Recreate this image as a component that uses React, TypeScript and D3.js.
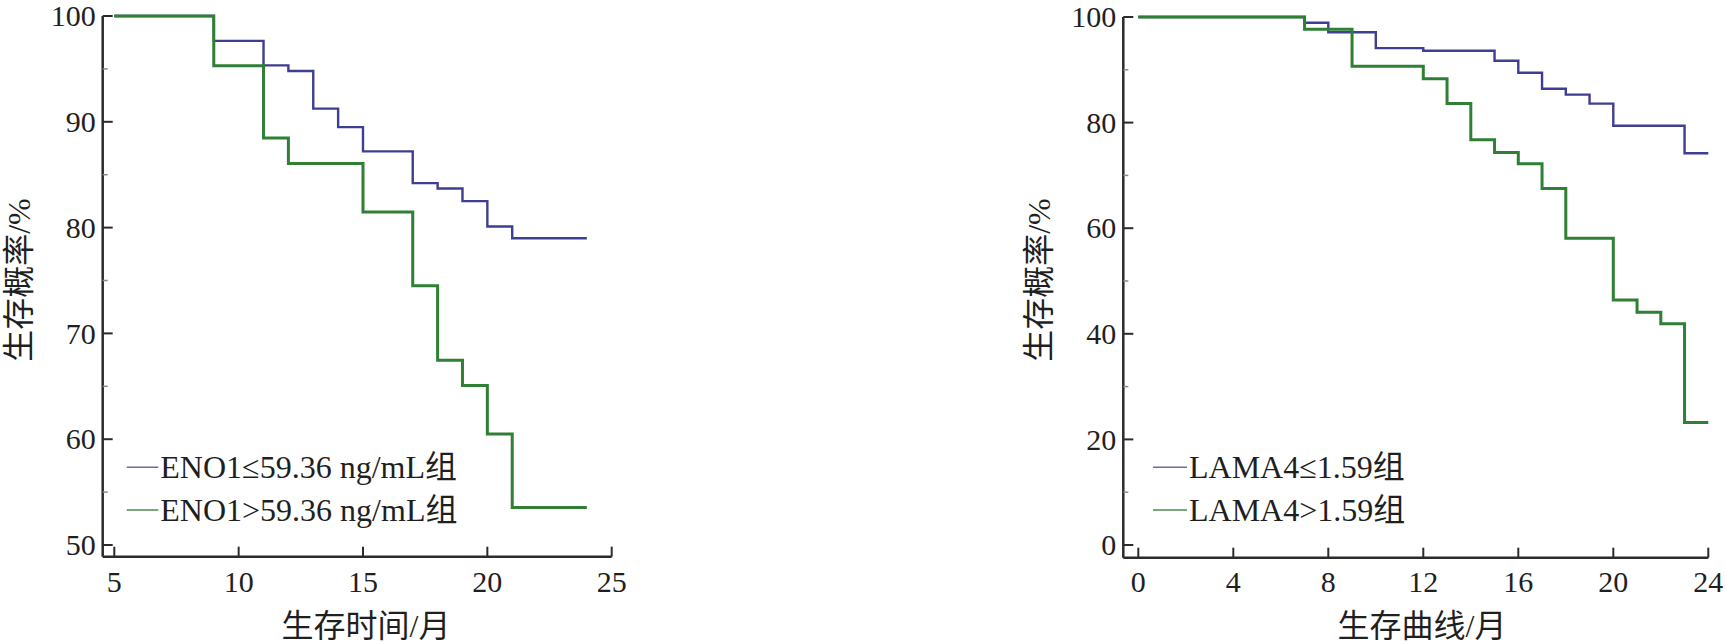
import React from "react";
import * as d3 from "d3";

// ---------- Data ----------
// Left panel: ENO1 groups
const leftLowTimes = [5, 9, 11, 12, 13, 14, 15, 17, 18, 19, 20, 21, 24];
const leftLowSurv = [100, 97.65, 95.33, 94.8, 91.25, 89.5, 87.2, 84.2, 83.7, 82.5, 80.1, 79.0, 79.0];
const leftHighTimes = [5, 9, 11, 12, 15, 17, 18, 19, 20, 21, 24];
const leftHighSurv = [100, 95.3, 88.46, 86.05, 81.47, 74.5, 67.46, 65.08, 60.5, 53.54, 53.54];

// Right panel: LAMA4 groups
const rightLowTimes = [0, 7, 8, 10, 12, 15, 16, 17, 18, 19, 20, 23, 24];
const rightLowSurv = [100, 98.9, 97.1, 94.1, 93.6, 91.7, 89.45, 86.4, 85.3, 83.6, 79.4, 74.2, 74.2];
const rightHighTimes = [0, 7, 9, 12, 13, 14, 15, 16, 17, 18, 20, 21, 22, 23, 24];
const rightHighSurv = [100, 97.7, 90.65, 88.3, 83.6, 76.75, 74.35, 72.2, 67.5, 58.1, 46.4, 44.1, 41.9, 23.2, 23.2];

const leftXTicks = [5, 10, 15, 20, 25];
const leftYTicks = [50, 60, 70, 80, 90, 100];
const leftYMinor = [55, 65, 75, 85, 95];
const rightXTicks = [0, 4, 8, 12, 16, 20, 24];
const rightYTicks = [0, 20, 40, 60, 80, 100];
const rightYMinor = [10, 30, 50, 70, 90];

const leftLegend = ["ENO1≤59.36 ng/mL组", "ENO1>59.36 ng/mL组"];
const rightLegend = ["LAMA4≤1.59组", "LAMA4>1.59组"];
const yTitle = "生存概率/%";
const leftXTitle = "生存时间/月";
const rightXTitle = "生存曲线/月";

const BLUE = "#3e3e92";
const GREEN = "#2f8034";
const BLUE_LEG = "#6b6bab";
const GREEN_LEG = "#4d8c4f";
const AXIS = "#2b2b2b";
const TEXT = "#1f1f1f";
const FONT = "'Liberation Serif', 'Noto Sans CJK SC', serif";

type PanelProps = {
  xDomain: [number, number];
  xRange: [number, number];
  axisLeft: number;
  yDomain: [number, number];
  yRange: [number, number];
  axisBottom: number;
  xTicks: number[];
  yTicks: number[];
  yMinor: number[];
  series: { times: number[]; surv: number[]; color: string; width: number }[];
  legend: string[];
  legendColors: string[];
  legendX: [number, number];
  legendY: number[];
  xTitle: string;
  xTitleX: number;
  yTitleX: number;
};

function Panel(p: PanelProps) {
  const x = d3.scaleLinear().domain(p.xDomain).range(p.xRange);
  const y = d3.scaleLinear().domain(p.yDomain).range(p.yRange);
  const top = y(p.yDomain[1]);
  const right = x(p.xDomain[1]);
  const line = d3
    .line<[number, number]>()
    .x((d) => x(d[0]))
    .y((d) => y(d[1]))
    .curve(d3.curveStepAfter);
  return (
    <g>
      {p.series.map((s, i) => (
        <path
          key={i}
          d={line(s.times.map((t, j) => [t, s.surv[j]] as [number, number])) || ""}
          fill="none"
          stroke={s.color}
          strokeWidth={s.width}
        />
      ))}
      {/* axes */}
      <line x1={p.axisLeft} x2={p.axisLeft} y1={top} y2={p.axisBottom} stroke={AXIS} strokeWidth={2.5} />
      <line x1={p.axisLeft} x2={right} y1={p.axisBottom} y2={p.axisBottom} stroke={AXIS} strokeWidth={2.5} />
      {p.yTicks.map((v) => (
        <g key={"y" + v}>
          <line x1={p.axisLeft} x2={p.axisLeft + 10} y1={y(v)} y2={y(v)} stroke={AXIS} strokeWidth={2} />
          <text
            x={p.axisLeft - 7}
            y={y(v)}
            dy="0.34em"
            textAnchor="end"
            fontSize={30}
            fontFamily={FONT}
            fill={TEXT}
          >
            {v}
          </text>
        </g>
      ))}
      {p.yMinor.map((v) => (
        <line key={"m" + v} x1={p.axisLeft} x2={p.axisLeft + 5} y1={y(v)} y2={y(v)} stroke="#8a8a8a" strokeWidth={1.5} />
      ))}
      {p.xTicks.map((t) => (
        <g key={"x" + t}>
          <line x1={x(t)} x2={x(t)} y1={p.axisBottom} y2={p.axisBottom - 10} stroke={AXIS} strokeWidth={2} />
          <text x={x(t)} y={592} textAnchor="middle" fontSize={30} fontFamily={FONT} fill={TEXT}>
            {t}
          </text>
        </g>
      ))}
      {/* legend */}
      {p.legend.map((l, i) => (
        <g key={"l" + i}>
          <line
            x1={p.legendX[0]}
            x2={p.legendX[1]}
            y1={p.legendY[i]}
            y2={p.legendY[i]}
            stroke={p.legendColors[i]}
            strokeWidth={1.6}
          />
          <text
            x={p.legendX[1] + 2}
            y={p.legendY[i] + 11}
            fontSize={32}
            fontFamily={FONT}
            fill={TEXT}
          >
            {l}
          </text>
        </g>
      ))}
      {/* titles */}
      <text x={p.xTitleX} y={637} textAnchor="middle" fontSize={32} fontFamily={FONT} fill={TEXT}>
        {p.xTitle}
      </text>
      <text
        transform={`translate(${p.yTitleX},280) rotate(-90)`}
        textAnchor="middle"
        dy="0.36em"
        fontSize={32}
        fontFamily={FONT}
        fill={TEXT}
      >
        {yTitle}
      </text>
    </g>
  );
}

export default function App() {
  return (
    <svg
      width={1727}
      height={644}
      style={{ position: "absolute", left: 0, top: 0, background: "#fff" }}
    >
      <rect width={1727} height={644} fill="#fff" />
      <Panel
        xDomain={[5, 25]}
        xRange={[114.3, 611.7]}
        axisLeft={102.7}
        yDomain={[50, 100]}
        yRange={[545, 16]}
        axisBottom={556.7}
        xTicks={leftXTicks}
        yTicks={leftYTicks}
        yMinor={leftYMinor}
        series={[
          { times: leftLowTimes, surv: leftLowSurv, color: BLUE, width: 2.4 },
          { times: leftHighTimes, surv: leftHighSurv, color: GREEN, width: 3 },
        ]}
        legend={leftLegend}
        legendColors={[BLUE_LEG, GREEN_LEG]}
        legendX={[126.7, 158.3]}
        legendY={[467.3, 510]}
        xTitle={leftXTitle}
        xTitleX={366}
        yTitleX={18}
      />
      <Panel
        xDomain={[0, 24]}
        xRange={[1138.3, 1708.3]}
        axisLeft={1123.3}
        yDomain={[0, 100]}
        yRange={[545, 17]}
        axisBottom={557.7}
        xTicks={rightXTicks}
        yTicks={rightYTicks}
        yMinor={rightYMinor}
        series={[
          { times: rightLowTimes, surv: rightLowSurv, color: BLUE, width: 2.4 },
          { times: rightHighTimes, surv: rightHighSurv, color: GREEN, width: 3 },
        ]}
        legend={rightLegend}
        legendColors={[BLUE_LEG, GREEN_LEG]}
        legendX={[1153, 1187]}
        legendY={[467.3, 510]}
        xTitle={rightXTitle}
        xTitleX={1422}
        yTitleX={1038}
      />
    </svg>
  );
}
